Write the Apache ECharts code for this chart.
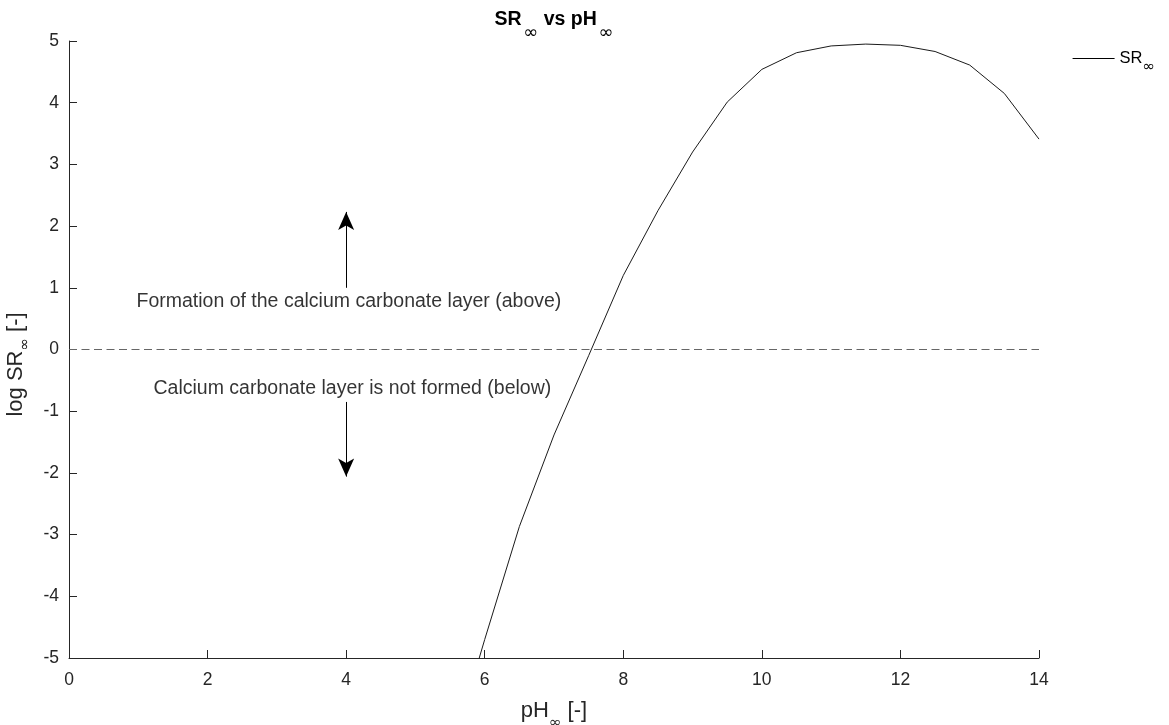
<!DOCTYPE html>
<html>
<head>
<meta charset="utf-8">
<script src="https://cdn.jsdelivr.net/npm/echarts@6/dist/echarts.min.js"></script>
<style>html,body{margin:0;padding:0;background:#fff}#c{width:1169px;height:725px}</style>
</head>
<body>
<div id="c"></div>
<script>
const pH = [5.5, 6.0, 6.5, 7.0, 7.5, 8.0, 8.5, 9.0, 9.5, 10.0, 10.5, 11.0, 11.5, 12.0, 12.5, 13.0, 13.5, 14.0];
const logSR = [-6.6, -4.70, -2.87, -1.385, -0.10, 1.2, 2.25, 3.20, 4.01, 4.54, 4.81, 4.92, 4.95, 4.93, 4.83, 4.61, 4.15, 3.41];
const xTicks = [0, 2, 4, 6, 8, 10, 12, 14];
const yTicks = [-5, -4, -3, -2, -1, 0, 1, 2, 3, 4, 5];
const thresholdLine = [[0, 0], [14, 0]];
const aboveArrow = [[4, 1.0], [4, 2.23]];
const belowArrow = [[4, -0.85], [4, -2.06]];
const annotations = [
  {value: [4.04, 0.77], text: 'Formation of the calcium carbonate layer (above)'},
  {value: [4.09, -0.63], text: 'Calcium carbonate layer is not formed (below)'}
];

const font = '"Liberation Sans", Arial, sans-serif';
const symFont = '"DejaVu Sans", sans-serif';
const axisColor = '#262626';
const chart = echarts.init(document.getElementById('c'));
chart.setOption({
  backgroundColor: '#fff',
  animation: false,
  textStyle: {fontFamily: font},
  title: {
    text: '{b|SR}{g| }{s|∞}{b| vs pH}{g| }{s|∞}',
    left: 554, top: -2, padding: 0, textAlign: 'center',
    textStyle: {
      rich: {
        b: {fontSize: 19.5, fontWeight: 'bold', color: '#000', fontFamily: font},
        g: {fontSize: 6, fontWeight: 'normal', color: '#000', fontFamily: font},
        s: {fontSize: 18, fontWeight: 'normal', color: '#000', fontFamily: symFont, padding: [26, 0, 0, 0]}
      }
    }
  },
  legend: {
    data: [{name: 'SR∞', icon: 'rect'}],
    right: 9, top: 45,
    itemWidth: 42, itemHeight: 1,
    formatter: () => '{a|SR}{s|∞}',
    textStyle: {
      rich: {
        a: {fontSize: 16.5, color: '#000', fontFamily: font},
        s: {fontSize: 15, color: '#000', fontFamily: symFont, padding: [18, 0, 0, 0]}
      }
    }
  },
  grid: {left: 69, right: 130, top: 41, bottom: 67, containLabel: false, outerBoundsMode: 'none'},
  xAxis: {
    type: 'value', min: 0, max: 14, interval: 2,
    name: '{a|pH}{s|∞}{a| [-]}',
    nameLocation: 'middle', nameGap: 32,
    nameTextStyle: {
      rich: {
        a: {fontSize: 22, color: axisColor, fontFamily: font},
        s: {fontSize: 15, color: axisColor, fontFamily: symFont, padding: [26, 0, 0, 0]}
      }
    },
    axisLine: {show: true, onZero: false, lineStyle: {color: axisColor, width: 1}},
    axisTick: {show: true, inside: true, length: 8, lineStyle: {color: axisColor}},
    axisLabel: {color: axisColor, fontSize: 17.5, margin: 13, fontFamily: font, formatter: v => xTicks.includes(v) ? String(v) : ''},
    splitLine: {show: false}
  },
  yAxis: {
    type: 'value', min: -5, max: 5, interval: 1,
    name: '{a|log SR}{s|∞}{a| [-]}',
    nameLocation: 'middle', nameGap: 31, nameRotate: 90,
    nameTextStyle: {
      padding: [0, 30, 0, 0],
      rich: {
        a: {fontSize: 22, color: axisColor, fontFamily: font},
        s: {fontSize: 15, color: axisColor, fontFamily: symFont, padding: [18, 0, 0, 0]}
      }
    },
    axisLine: {show: true, onZero: false, lineStyle: {color: axisColor, width: 1}},
    axisTick: {show: true, inside: true, length: 8, lineStyle: {color: axisColor}},
    axisLabel: {color: axisColor, fontSize: 17.5, margin: 10, fontFamily: font, formatter: v => yTicks.includes(v) ? String(v) : ''},
    splitLine: {show: false}
  },
  series: [
    {
      name: 'SR∞', type: 'line',
      data: pH.map((x, i) => [x, logSR[i]]),
      symbol: 'none', clip: true,
      lineStyle: {color: '#1a1a1a', width: 1},
      itemStyle: {color: '#000'}
    },
    {
      name: 'threshold', type: 'line',
      data: thresholdLine, symbol: 'none', z: 1,
      lineStyle: {color: '#666', width: 1, type: [8, 4.5]},
      silent: true
    },
    {
      name: 'arrows', type: 'line', data: [], symbol: 'none',
      markLine: {
        silent: true, symbol: ['none', 'arrow'], symbolSize: [12, 18],
        label: {show: false},
        lineStyle: {color: '#000', width: 1, type: 'solid'},
        data: [
          [{coord: aboveArrow[0]}, {coord: aboveArrow[1]}],
          [{coord: belowArrow[0]}, {coord: belowArrow[1]}]
        ]
      }
    },
    {
      name: 'notes', type: 'scatter', symbolSize: 0, silent: true,
      data: annotations.map(a => ({value: a.value, text: a.text})),
      label: {
        show: true, position: 'inside', formatter: p => p.data.text,
        color: '#000', fontSize: 19.5, fontFamily: font
      }
    }
  ]
});
</script>
</body>
</html>
